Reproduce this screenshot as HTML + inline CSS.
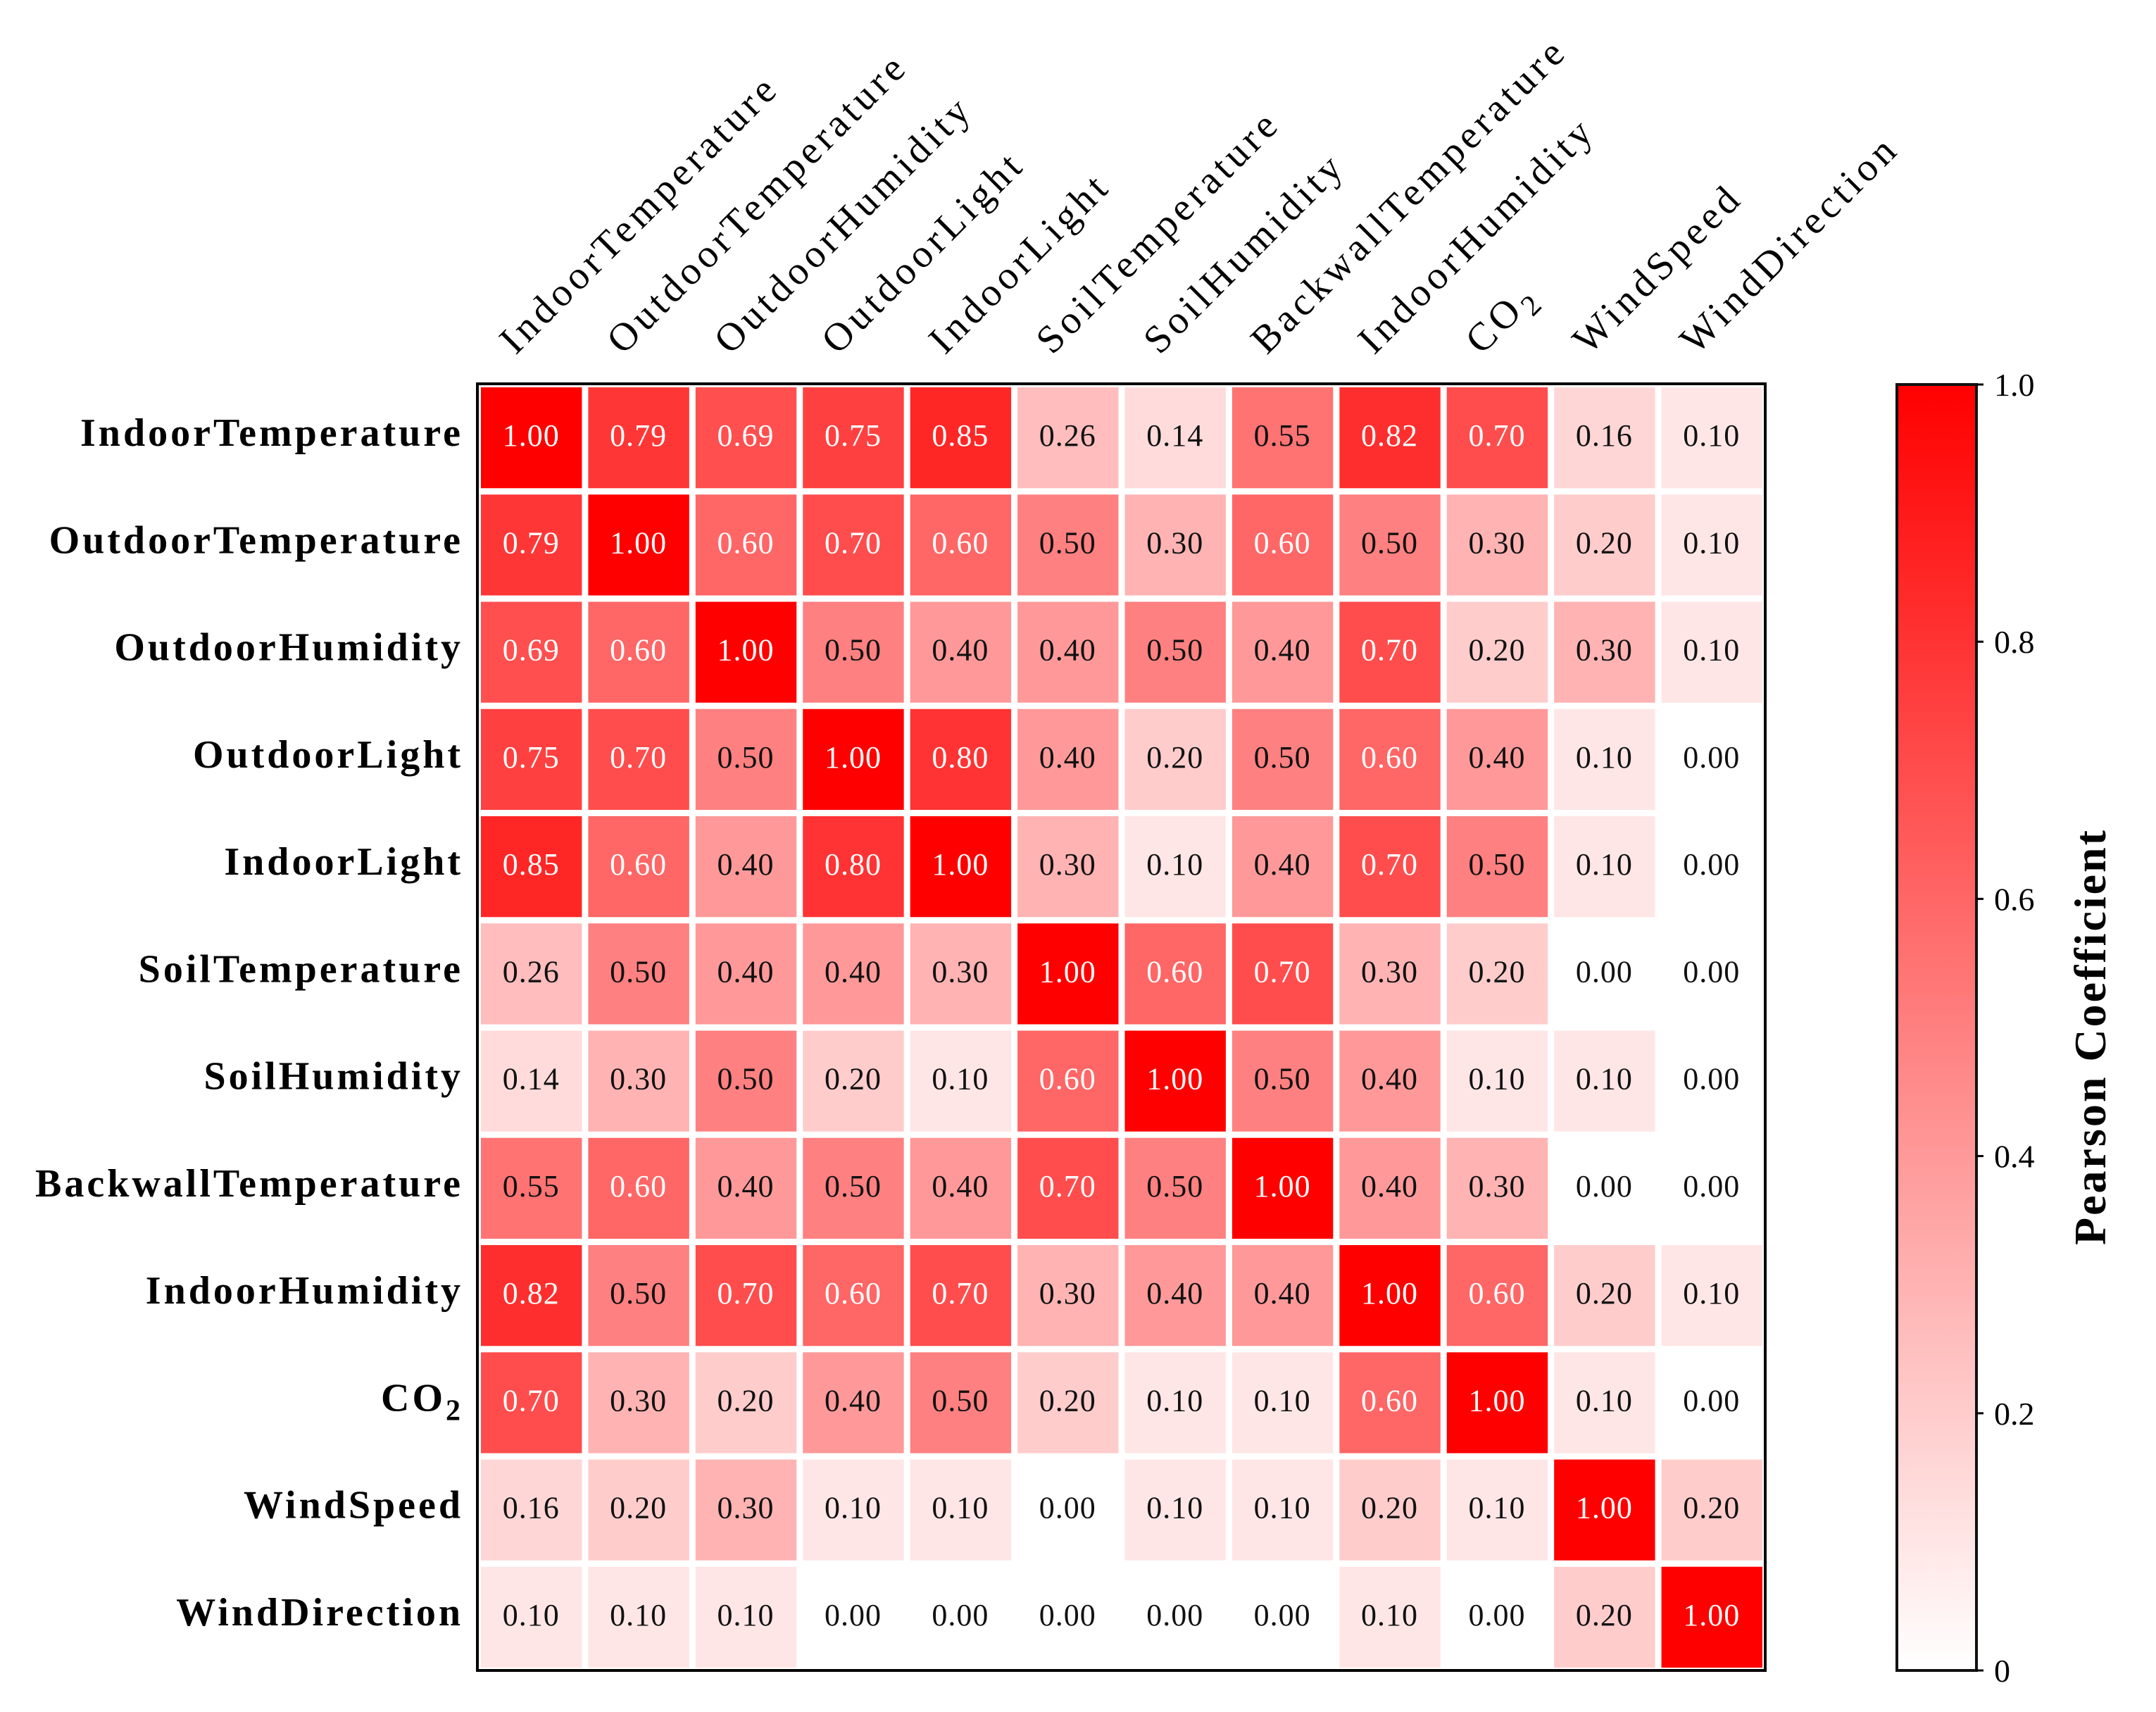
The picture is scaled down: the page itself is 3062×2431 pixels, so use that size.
<!DOCTYPE html>
<html><head><meta charset="utf-8"><style>
html,body{margin:0;padding:0;background:#fff}
svg{display:block}
text{font-family:"Liberation Serif",serif}
</style></head><body>
<svg id="chart" width="3062" height="2431" viewBox="0 0 3062 2431" xmlns="http://www.w3.org/2000/svg">
<defs><linearGradient id="cbg" x1="0" y1="1" x2="0" y2="0"><stop offset="0" stop-color="#fff"/><stop offset="1" stop-color="#f00"/></linearGradient></defs>
<g id="cells"></g>
<rect x="678" y="545" width="1829" height="1827" fill="none" stroke="#000" stroke-width="4"/>
<g id="labels"></g>
<rect x="2694" y="546" width="113" height="1826" fill="url(#cbg)" stroke="#111" stroke-width="4"/>
<g id="cbticks"></g>
<text transform="translate(2990,1472) rotate(-90)" text-anchor="middle" font-size="64" font-weight="bold" letter-spacing="3">Pearson Coefficient</text>
</svg>
<script>
const names = ["IndoorTemperature","OutdoorTemperature","OutdoorHumidity","OutdoorLight","IndoorLight","SoilTemperature","SoilHumidity","BackwallTemperature","IndoorHumidity","CO2","WindSpeed","WindDirection"];
const row0 = [1.00,0.79,0.69,0.75,0.85,0.26,0.14,0.55,0.82,0.70,0.16,0.10];
const row1 = [0.79,1.00,0.60,0.70,0.60,0.50,0.30,0.60,0.50,0.30,0.20,0.10];
const row2 = [0.69,0.60,1.00,0.50,0.40,0.40,0.50,0.40,0.70,0.20,0.30,0.10];
const row3 = [0.75,0.70,0.50,1.00,0.80,0.40,0.20,0.50,0.60,0.40,0.10,0.00];
const row4 = [0.85,0.60,0.40,0.80,1.00,0.30,0.10,0.40,0.70,0.50,0.10,0.00];
const row5 = [0.26,0.50,0.40,0.40,0.30,1.00,0.60,0.70,0.30,0.20,0.00,0.00];
const row6 = [0.14,0.30,0.50,0.20,0.10,0.60,1.00,0.50,0.40,0.10,0.10,0.00];
const row7 = [0.55,0.60,0.40,0.50,0.40,0.70,0.50,1.00,0.40,0.30,0.00,0.00];
const row8 = [0.82,0.50,0.70,0.60,0.70,0.30,0.40,0.40,1.00,0.60,0.20,0.10];
const row9 = [0.70,0.30,0.20,0.40,0.50,0.20,0.10,0.10,0.60,1.00,0.10,0.00];
const row10 = [0.16,0.20,0.30,0.10,0.10,0.00,0.10,0.10,0.20,0.10,1.00,0.20];
const row11 = [0.10,0.10,0.10,0.00,0.00,0.00,0.00,0.00,0.10,0.00,0.20,1.00];
const matrix = [row0,row1,row2,row3,row4,row5,row6,row7,row8,row9,row10,row11];
const cbTicks = [0,0.2,0.4,0.6,0.8,1.0];
const cbTickLabels = ["0","0.2","0.4","0.6","0.8","1.0"];

const NS="http://www.w3.org/2000/svg";
const X0=678,Y0=545,W=1829,H=1827,n=names.length;
const pw=W/n, ph=H/n;
const xs=i=>X0+i*pw, ys=j=>Y0+j*ph;
const cbY=v=>2372-v*1826;
function mk(t,a){const e=document.createElementNS(NS,t);for(const k in a)e.setAttribute(k,a[k]);return e;}
const cells=document.getElementById('cells'), labels=document.getElementById('labels'), cb=document.getElementById('cbticks');
function color(v){const c=Math.round(255*(1-v));return `rgb(255,${c},${c})`;}
matrix.forEach((row,j)=>row.forEach((v,i)=>{
  const r=mk('rect',{x:xs(i)+5,y:ys(j)+5,width:pw-9,height:ph-9,fill:color(v)});
  
  
  cells.appendChild(r);
  const t=mk('text',{x:xs(i)+pw/2,y:ys(j)+ph/2+12,'text-anchor':'middle','font-size':44,'letter-spacing':1,fill:v>=0.6?'#fff':'#111'});
  t.textContent=v.toFixed(2);
  
  
  cells.appendChild(t);
}));
function setLabel(t,name){
  if(name==="CO2"){t.textContent="CO";const s=mk('tspan',{'baseline-shift':'-30%','font-size':'75%'});s.textContent="2";t.appendChild(s);}
  else t.textContent=name;
}
names.forEach((nm,j)=>{
  const t=mk('text',{x:658,y:ys(j)+ph/2+12,'text-anchor':'end','font-size':56,'font-weight':'bold','letter-spacing':4});
  setLabel(t,nm);
  
  
  labels.appendChild(t);
});
names.forEach((nm,i)=>{
  const cx=xs(i)+pw/2-22, cy=505;
  const t=mk('text',{x:0,y:0,transform:`translate(${cx},${cy}) rotate(-45)`,'font-size':56,'letter-spacing':6});
  setLabel(t,nm);
  
  
  labels.appendChild(t);
});
cbTicks.forEach((v,k)=>{
  const y=cbY(v);
  const l=mk('line',{x1:2807,x2:2817,y1:y,y2:y,stroke:'#000','stroke-width':3});
  
  
  cb.appendChild(l);
  const t=mk('text',{x:2832,y:y+16,'font-size':46});
  t.textContent=cbTickLabels[k];
  
  
  cb.appendChild(t);
});
</script>
</body></html>
